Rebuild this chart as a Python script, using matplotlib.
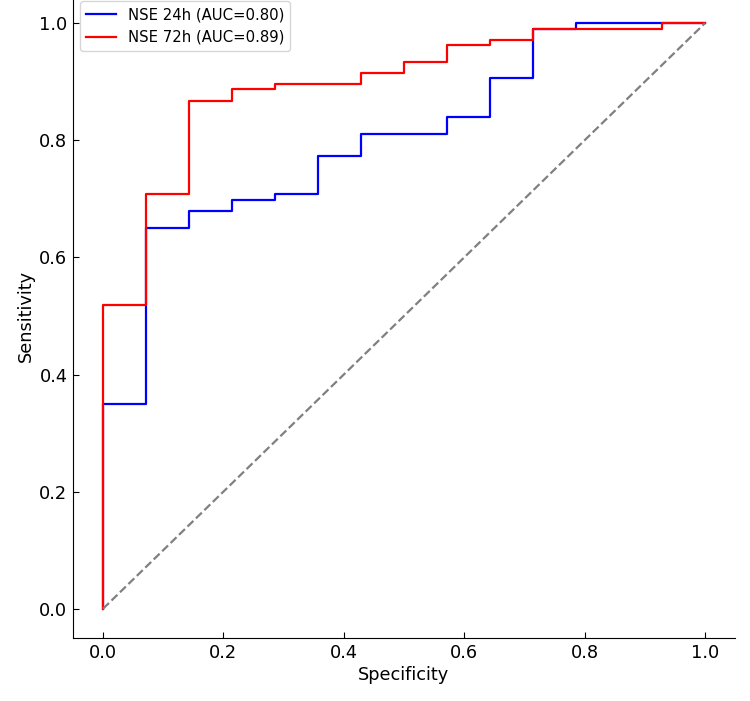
import matplotlib
matplotlib.use("Agg")
import matplotlib.pyplot as plt

# ROC step points (x = 1 - specificity as plotted, y = sensitivity)
fpr_24h = [0.0, 0.0, 0.0714, 0.1429, 0.2143, 0.2857, 0.3571, 0.4286, 0.5714, 0.6429, 0.7143, 0.7857, 1.0]
tpr_24h = [0.0, 0.349, 0.651, 0.679, 0.698, 0.708, 0.774, 0.811, 0.840, 0.906, 0.991, 1.0, 1.0]

fpr_72h = [0.0, 0.0, 0.0714, 0.1429, 0.2143, 0.2857, 0.4286, 0.5000, 0.5714, 0.6429, 0.7143, 0.9286, 1.0]
tpr_72h = [0.0, 0.519, 0.708, 0.868, 0.887, 0.896, 0.915, 0.934, 0.962, 0.972, 0.991, 1.0, 1.0]

label_24h = "NSE 24h (AUC=0.80)"
label_72h = "NSE 72h (AUC=0.89)"
x_ticks = [0.0, 0.2, 0.4, 0.6, 0.8, 1.0]
y_ticks = [0.0, 0.2, 0.4, 0.6, 0.8, 1.0]

fig = plt.figure(figsize=(7.5, 7.01), dpi=100)
ax = fig.add_axes([0.0973, 0.0899, 0.8827, 0.9187])

ax.plot(fpr_24h, tpr_24h, drawstyle="steps-post", color="blue", lw=1.6, label=label_24h)
ax.plot(fpr_72h, tpr_72h, drawstyle="steps-post", color="red", lw=1.6, label=label_72h)
ax.plot([0, 1], [0, 1], linestyle="--", color="gray", lw=1.6)

ax.set_xlim(-0.05, 1.05)
ax.set_ylim(-0.05, 1.05)
ax.set_xticks(x_ticks)
ax.set_yticks(y_ticks)
ax.set_xticklabels([f"{t:.1f}" for t in x_ticks])
ax.set_yticklabels([f"{t:.1f}" for t in y_ticks])
ax.tick_params(direction="in", length=4, labelsize=12.8, pad=4)
ax.spines["top"].set_visible(False)
ax.spines["right"].set_visible(False)
ax.set_xlabel("Specificity", fontsize=12.8, labelpad=3)
ax.set_ylabel("Sensitivity", fontsize=12.8, labelpad=3)
ax.legend(loc="upper left", fontsize=10.7)

fig.savefig("out.png", dpi=100)
